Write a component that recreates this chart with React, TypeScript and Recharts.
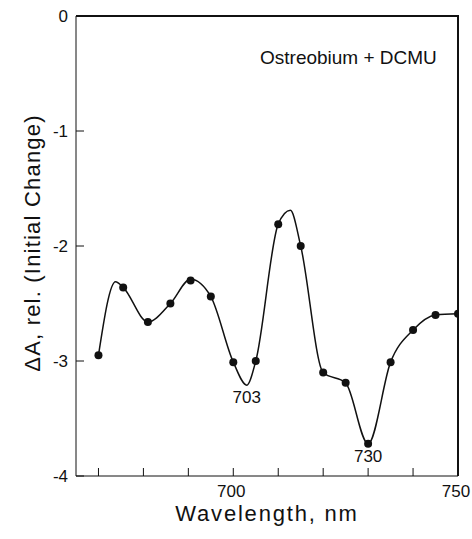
import { ComposedChart, Line, XAxis, YAxis, ReferenceDot, CartesianGrid } from 'recharts'

// measured points (nm, ΔA rel.)
const pointNm = [670, 675.5, 681, 686, 690.5, 695, 700, 705, 710, 715, 720, 725, 730, 735, 740, 745, 750]
const pointDA = [-2.95, -2.36, -2.66, -2.5, -2.3, -2.44, -3.01, -3.0, -1.81, -2.0, -3.1, -3.19, -3.72, -3.01, -2.73, -2.6, -2.59]

// hand-drawn fit through the points, with its turning points
const curveNm = [670, 673.8, 675.5, 681, 686, 690.5, 695, 700, 703, 705, 710, 712.7, 715, 720, 725, 730, 735, 740, 745, 750]
const curveDA = [-2.95, -2.31, -2.36, -2.66, -2.5, -2.29, -2.44, -3.01, -3.21, -3.0, -1.81, -1.69, -2.0, -3.1, -3.19, -3.72, -3.01, -2.73, -2.6, -2.59]

const xTicks = [670, 680, 690, 700, 710, 720, 730, 740, 750]
const xLabeled = [700, 750]
const yTicks = [0, -1, -2, -3, -4]

const peakLabels = [
  { nm: 703, da: -3.21, text: '703' },
  { nm: 730, da: -3.72, text: '730' },
]

const points = pointNm.map((x, i) => ({ x, y: pointDA[i] }))
const curve = curveNm.map((x, i) => ({ x, y: curveDA[i] }))

const FONT = '"Liberation Sans", Arial, sans-serif'
const tickStyle = { fill: '#111', fontSize: 17, fontFamily: FONT }

export default function App() {
  return (
    <div style={{ position: 'absolute', left: 0, top: 0, width: 472, height: 539, fontFamily: FONT }}>
      <ComposedChart width={472} height={539} margin={{ top: 16, right: 14, left: 0, bottom: 0 }}>
        {/* top and right frame edges */}
        <CartesianGrid
          stroke="#111"
          strokeWidth={1.5}
          horizontalCoordinatesGenerator={({ offset }: any) => [offset.top]}
          verticalCoordinatesGenerator={({ offset }: any) => [offset.left + offset.width]}
        />
        <XAxis
          dataKey="x"
          type="number"
          domain={[665, 750]}
          ticks={xTicks}
          interval={0}
          tickFormatter={(v) => (xLabeled.includes(v) ? String(v) : '')}
          tickSize={-8}
          tickMargin={17}
          height={63}
          stroke="#111"
          tick={{ ...tickStyle, dx: -2 }}
          allowDataOverflow
          label={{ value: 'Wavelength, nm', position: 'insideBottom', offset: 18, fontSize: 22, fill: '#111', letterSpacing: 1.8, fontFamily: FONT }}
        />
        <YAxis
          type="number"
          domain={[-4, 0]}
          ticks={yTicks}
          interval={0}
          tickSize={-8}
          tickMargin={16}
          width={76}
          stroke="#111"
          tick={tickStyle}
          allowDataOverflow
        />
        <Line data={curve} dataKey="y" type="monotone" stroke="#111" strokeWidth={1.5} dot={false} isAnimationActive={false} />
        <Line
          data={points}
          dataKey="y"
          stroke="none"
          dot={{ r: 4, fill: '#111', stroke: '#111', strokeWidth: 0 }}
          activeDot={false}
          isAnimationActive={false}
        />
        {peakLabels.map((p) => (
          <ReferenceDot
            key={p.text}
            x={p.nm}
            y={p.da}
            r={0}
            stroke="none"
            label={{ value: p.text, position: 'bottom', offset: 6, fontSize: 17, fill: '#111', fontFamily: FONT }}
          />
        ))}
      </ComposedChart>
      {/* frame edges again as plain borders, in case the grid lines get dropped */}
      <div
        style={{
          position: 'absolute',
          left: 76,
          top: 15,
          width: 381,
          height: 459,
          borderTop: '2px solid #111',
          borderRight: '2px solid #111',
          pointerEvents: 'none',
        }}
      />
      <div style={{ position: 'absolute', left: 260, top: 47, fontSize: 19, color: '#111', whiteSpace: 'nowrap' }}>
        Ostreobium + DCMU
      </div>
      <div
        style={{
          position: 'absolute',
          left: 33,
          top: 243,
          fontSize: 22,
          letterSpacing: 1.2,
          color: '#111',
          whiteSpace: 'nowrap',
          transform: 'translate(-50%, -50%) rotate(-90deg)',
        }}
      >
        ΔA, rel. (Initial Change)
      </div>
    </div>
  )
}
